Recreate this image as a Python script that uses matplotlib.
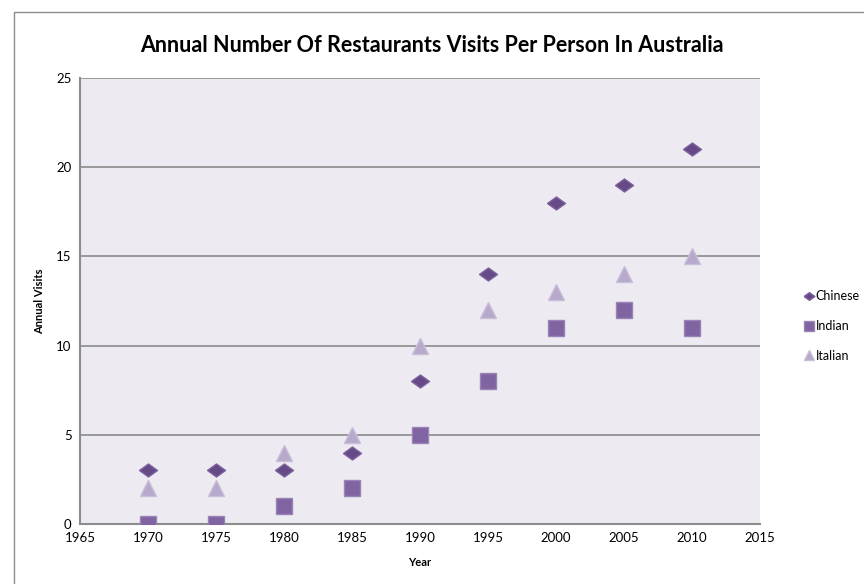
import matplotlib
matplotlib.use("Agg")
import matplotlib.pyplot as plt
from matplotlib.patches import Rectangle

plt.rcParams['font.family'] = ['Lato', 'DejaVu Sans']

years = [1970, 1975, 1980, 1985, 1990, 1995, 2000, 2005, 2010]
chinese = [3, 3, 3, 4, 8, 14, 18, 19, 21]
indian = [0, 0, 1, 2, 5, 8, 11, 12, 11]
italian = [2, 2, 4, 5, 10, 12, 13, 14, 15]

fig = plt.figure(figsize=(8.64, 5.84), dpi=100)
ax = fig.add_axes([80 / 864, 1 - 524 / 584, 680 / 864, 446 / 584])
ax.set_facecolor('#edeaf1')

# wide diamond like the Excel marker
diamond = [(-1, 0), (0, 0.72), (1, 0), (0, -0.72), (-1, 0)]

ax.plot(years, italian, linestyle='none', marker='^', markersize=11,
        color='#b7a9cb', markeredgecolor='#c9bdd8', label='Italian', zorder=3)
ax.plot(years, indian, linestyle='none', marker='s', markersize=11,
        color='#8064a2', markeredgecolor='#9a83b6', label='Indian', zorder=3)
ax.plot(years, chinese, linestyle='none', marker=diamond, markersize=13,
        color='#664a88', markeredgecolor='#7d639e', label='Chinese', zorder=4)

ax.set_xlim(1965, 2015)
ax.set_ylim(0, 25)
ax.set_xticks(range(1965, 2016, 5))
ax.set_yticks(range(0, 26, 5))
ax.yaxis.grid(True, color='#8c8c8c', linewidth=1.2)
ax.set_axisbelow(True)
for side in ['top', 'right']:
    ax.spines[side].set_visible(False)
for side in ['left', 'bottom']:
    ax.spines[side].set_color('#8c8c8c')
    ax.spines[side].set_linewidth(1.5)
ax.tick_params(length=0, labelsize=9.5, colors='black', pad=6)

ax.set_xlabel('Year', fontsize=8, fontweight='bold', labelpad=9)
ax.set_ylabel('Annual Visits', fontsize=8, fontweight='bold', labelpad=8)
fig.text(0.5, 1 - 45 / 584, 'Annual Number Of Restaurants Visits Per Person In Australia',
         ha='center', va='center', fontsize=15.5, fontweight='bold')

h, l = ax.get_legend_handles_labels()
order = [2, 1, 0]
leg = fig.legend([h[i] for i in order], [l[i] for i in order],
                 loc='center left', bbox_to_anchor=(792 / 864, 1 - 326 / 584),
                 frameon=False, fontsize=9, handletextpad=0.1,
                 labelspacing=1.4, markerscale=0.6, handlelength=0.9)

fig.patches.append(Rectangle((14 / 864, -0.01), 1, 1 - 12 / 584 + 0.01,
                             transform=fig.transFigure, fill=False,
                             edgecolor='#8c8c8c', linewidth=1))

fig.savefig('out.png', dpi=100)
